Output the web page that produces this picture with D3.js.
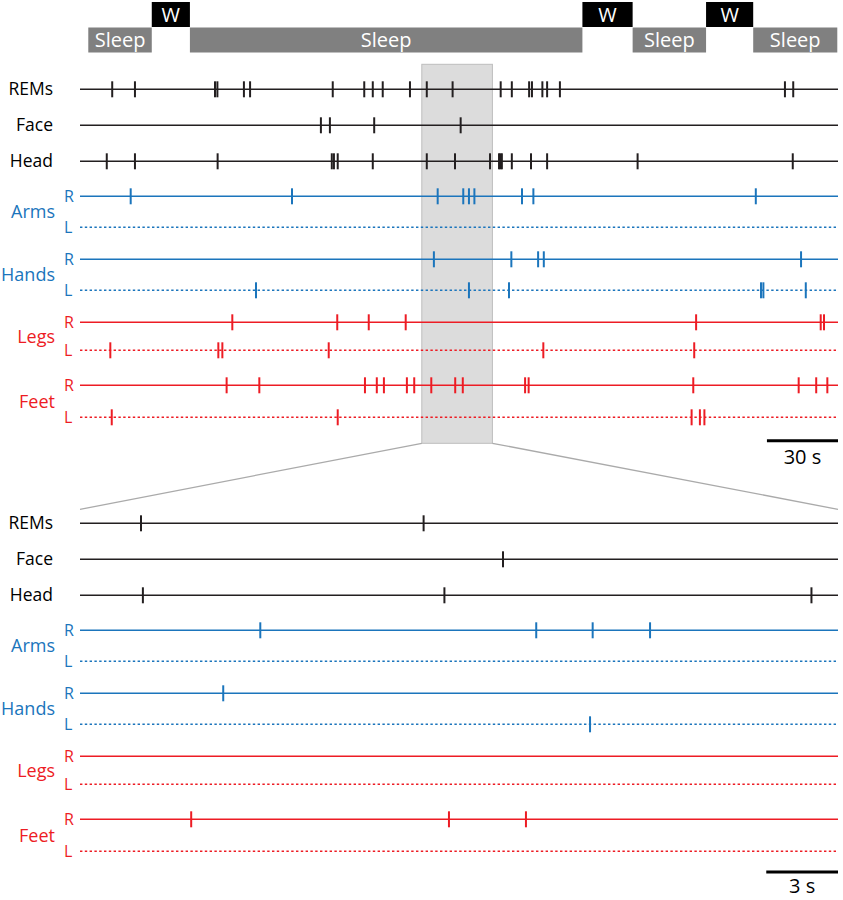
<!DOCTYPE html>
<html>
<head>
<meta charset="utf-8">
<script src="https://cdn.jsdelivr.net/npm/d3@7"></script>
<style>
  body { margin: 0; background: #fff; }
  svg text { font-family: "Open Sans", "Noto Sans", sans-serif; }
</style>
</head>
<body>
<div id="chart"></div>
<script>

// ---- data (seconds) ----
var stage_names = ['Sleep', 'W', 'Sleep', 'W', 'Sleep', 'W', 'Sleep'];
var stage_start = [3.5, 30.3, 46.4, 212.1, 233.3, 264.3, 284.2];
var stage_end   = [30.3, 46.4, 212.1, 233.3, 264.3, 284.2, 319.7];

var overview_domain = [0, 320];
var zoom_window = [144.3, 174.1];
var detail_domain = [0, 31.7];

// overview events
var rems_all   = [13.6, 23.2, 57.0, 58.0, 69.2, 71.8, 106.7, 120.0, 123.6, 127.8, 139.3, 146.4, 157.3,
                  177.6, 182.3, 189.6, 190.8, 195.2, 197.2, 202.6, 297.6, 301.1];
var face_all   = [101.7, 105.5, 124.2, 160.7];
var head_all   = [11.3, 23.2, 58.1, 106.3, 107.2, 108.8, 123.6, 146.4, 158.3, 173.1, 176.9, 177.5, 178.1,
                  182.3, 190.4, 197.2, 235.4, 300.9];
var arms_r_all = [21.4, 89.5, 151.0, 161.8, 164.2, 166.5, 186.6, 191.4, 285.3];
var arms_l_all = [];
var hands_r_all = [149.4, 182.1, 193.4, 195.8, 304.4];
var hands_l_all = [74.3, 164.2, 181.1, 287.5, 288.5, 306.4];
var legs_r_all = [64.3, 108.6, 121.9, 137.5, 260.1, 312.7, 314.1];
var legs_l_all = [12.8, 58.4, 60.1, 105.0, 195.6, 259.3];
var feet_r_all = [61.9, 75.7, 120.3, 125.3, 128.3, 138.0, 141.1, 148.3, 158.4, 161.6, 187.9, 189.4,
                  258.9, 303.4, 310.8, 315.5];
var feet_l_all = [13.4, 108.8, 258.2, 261.7, 263.6];

// detail events (seconds within zoomed window)
var rems_zoom   = [2.55, 14.37];
var face_zoom   = [17.69];
var head_zoom   = [2.63, 15.24, 30.59];
var arms_r_zoom = [7.54, 19.08, 21.44, 23.84];
var arms_l_zoom = [];
var hands_r_zoom = [5.99];
var hands_l_zoom = [21.33];
var legs_r_zoom = [];
var legs_l_zoom = [];
var feet_r_zoom = [4.65, 15.43, 18.65];
var feet_l_zoom = [];

// ---- layout ----
var width = 843, height = 900;
var x_left = 80, x_right = 838;
var row_offsets = [0, 36, 72, 107, 138, 170, 201, 233, 261, 296, 328];
var black = '#231f20', blue = '#1b75bc', red = '#ed1c24';

function make_rows(ev) {
  return [
    {name: 'REMs', side: null, color: black, events: ev[0]},
    {name: 'Face', side: null, color: black, events: ev[1]},
    {name: 'Head', side: null, color: black, events: ev[2]},
    {name: 'Arms', side: 'R', color: blue, events: ev[3]},
    {name: 'Arms', side: 'L', color: blue, events: ev[4]},
    {name: 'Hands', side: 'R', color: blue, events: ev[5]},
    {name: 'Hands', side: 'L', color: blue, events: ev[6]},
    {name: 'Legs', side: 'R', color: red, events: ev[7]},
    {name: 'Legs', side: 'L', color: red, events: ev[8]},
    {name: 'Feet', side: 'R', color: red, events: ev[9]},
    {name: 'Feet', side: 'L', color: red, events: ev[10]}
  ];
}

var svg = d3.select('#chart').append('svg')
  .attr('width', width)
  .attr('height', height);

var x_all = d3.scaleLinear().domain(overview_domain).range([x_left, x_right]);
var x_zoom = d3.scaleLinear().domain(detail_domain).range([x_left, x_right]);

// hypnogram
var stages = stage_names.map(function(d, i) {
  return {name: d, start: stage_start[i], end: stage_end[i]};
});

var hyp = svg.append('g').attr('class', 'hypnogram')
  .selectAll('g')
  .data(stages)
  .enter()
  .append('g')
  .attr('transform', function(d) {
    return 'translate(' + x_all(d.start) + ',' + (d.name == 'W' ? 2 : 27.5) + ')';
  });

hyp.append('rect')
  .attr('width', function(d) { return x_all(d.end) - x_all(d.start); })
  .attr('height', 25)
  .style('fill', function(d) { return d.name == 'W' ? '#000' : '#808080'; });

hyp.append('text')
  .attr('x', function(d) { return (x_all(d.end) - x_all(d.start)) / 2; })
  .attr('y', 19.5)
  .attr('text-anchor', 'middle')
  .style('font-size', '20px')
  .style('fill', '#fff')
  .text(function(d) { return d.name; });

// zoom window box + connectors
var box_top = 64.3, box_bottom = 443.3, detail_top = 523.3;
svg.append('rect')
  .attr('x', x_all(zoom_window[0]))
  .attr('y', box_top)
  .attr('width', x_all(zoom_window[1]) - x_all(zoom_window[0]))
  .attr('height', box_bottom - box_top)
  .style('fill', '#dcdcdc')
  .style('stroke', '#bdbdbd')
  .style('stroke-width', '1px');

svg.selectAll('.connector')
  .data([[zoom_window[0], detail_domain[0]], [zoom_window[1], detail_domain[1]]])
  .enter()
  .append('line')
  .attr('class', 'connector')
  .attr('x1', function(d) { return x_all(d[0]); })
  .attr('y1', box_bottom)
  .attr('x2', function(d) { return x_zoom(d[1]); })
  .attr('y2', 509.3)
  .style('stroke', '#aaaaaa')
  .style('stroke-width', '1.3px');

function draw_panel(rows, x, top, bar_len, bar_label, bar_y, label_dy) {

  var g = svg.append('g').attr('transform', 'translate(0,' + top + ')');

  var row_g = g.selectAll('.row')
    .data(rows)
    .enter()
    .append('g')
    .attr('class', 'row')
    .attr('transform', function(d, i) { return 'translate(0,' + row_offsets[i] + ')'; });

  row_g.append('line')
    .attr('x1', x.range()[0])
    .attr('x2', x.range()[1])
    .style('stroke', function(d) { return d.color; })
    .style('stroke-width', '1.5px')
    .style('stroke-dasharray', function(d) { return d.side == 'L' ? '2.4,2.4' : null; });

  row_g.selectAll('.evt')
    .data(function(d) { return d.events.map(function(t) { return {t: t, color: d.color}; }); })
    .enter()
    .append('line')
    .attr('class', 'evt')
    .attr('x1', function(d) { return x(d.t); })
    .attr('x2', function(d) { return x(d.t); })
    .attr('y1', -8)
    .attr('y2', 8)
    .style('stroke', function(d) { return d.color; })
    .style('stroke-width', '2px');

  // plain labels
  row_g.filter(function(d) { return d.side === null; })
    .append('text')
    .attr('x', 53)
    .attr('y', 6)
    .attr('text-anchor', 'end')
    .style('font-size', '17.5px')
    .style('fill', '#000')
    .text(function(d) { return d.name; });

  // R / L letters
  row_g.filter(function(d) { return d.side !== null; })
    .append('text')
    .attr('x', 64)
    .attr('y', 6)
    .style('font-size', '16px')
    .style('fill', function(d) { return d.color; })
    .text(function(d) { return d.side; });

  // limb group labels, centred between R and L rows
  var groups = [];
  rows.forEach(function(d, i) {
    if (d.side == 'R') groups.push({name: d.name, color: d.color, y: (row_offsets[i] + row_offsets[i + 1]) / 2});
  });

  g.selectAll('.group_label')
    .data(groups)
    .enter()
    .append('text')
    .attr('class', 'group_label')
    .attr('x', 55)
    .attr('y', function(d) { return d.y + 6.5; })
    .attr('text-anchor', 'end')
    .style('font-size', '18px')
    .style('fill', function(d) { return d.color; })
    .text(function(d) { return d.name; });

  // scale bar
  var x_end = x.range()[1];
  var x_start = x_end - (x(bar_len) - x(0));
  svg.append('line')
    .attr('x1', x_start)
    .attr('x2', x_end)
    .attr('y1', bar_y)
    .attr('y2', bar_y)
    .style('stroke', '#000')
    .style('stroke-width', '3px');

  svg.append('text')
    .attr('x', (x_start + x_end) / 2)
    .attr('y', bar_y + label_dy)
    .attr('text-anchor', 'middle')
    .style('font-size', '20px')
    .style('fill', '#000')
    .text(bar_label);
}

draw_panel(make_rows([rems_all, face_all, head_all, arms_r_all, arms_l_all, hands_r_all, hands_l_all,
                      legs_r_all, legs_l_all, feet_r_all, feet_l_all]),
           x_all, 89.3, 30, '30 s', 440.7, 23);

draw_panel(make_rows([rems_zoom, face_zoom, head_zoom, arms_r_zoom, arms_l_zoom, hands_r_zoom, hands_l_zoom,
                      legs_r_zoom, legs_l_zoom, feet_r_zoom, feet_l_zoom]),
           x_zoom, detail_top, 3, '3 s', 872, 20.5);

</script>
</body>
</html>
